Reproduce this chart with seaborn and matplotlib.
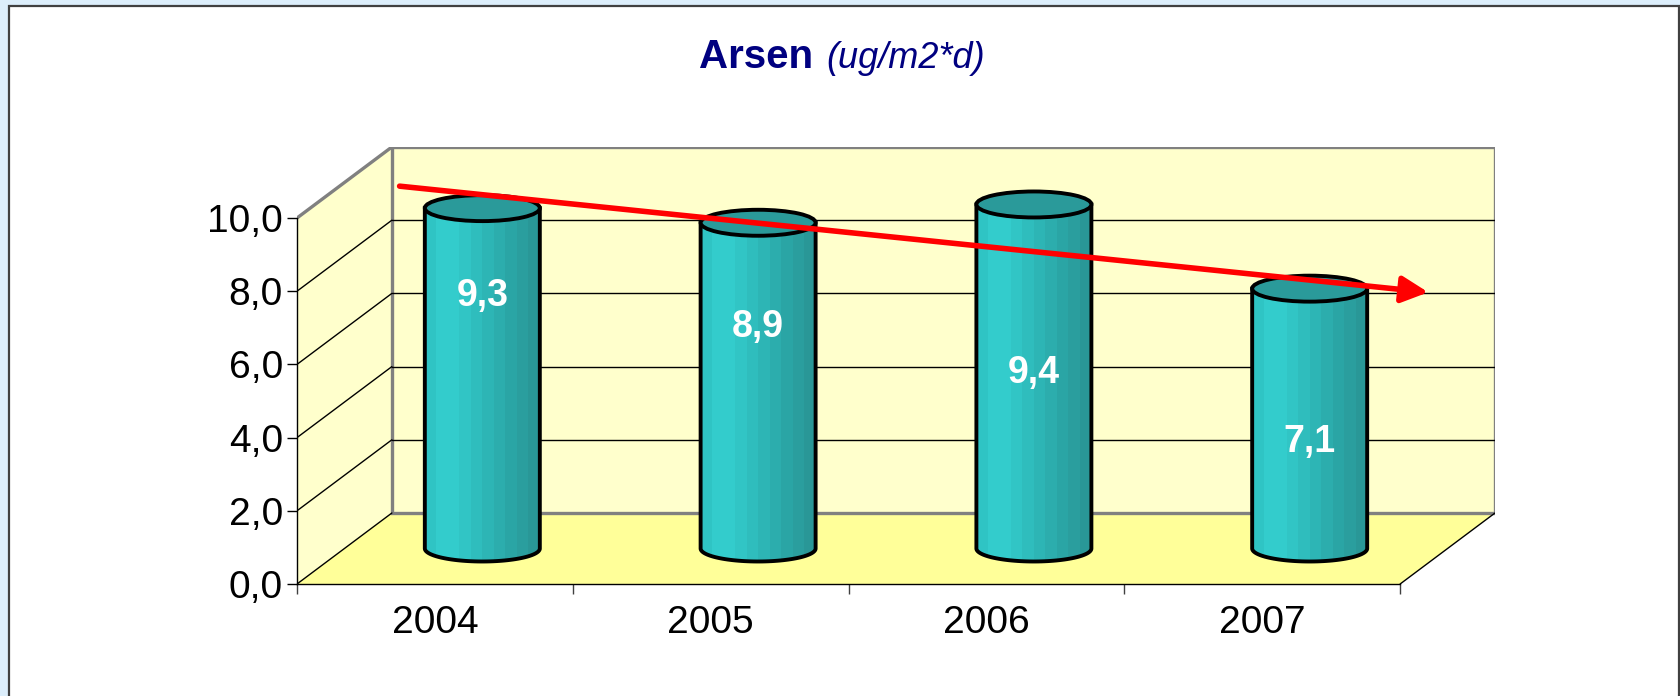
import numpy as np
import pandas as pd
import matplotlib
matplotlib.use("Agg")
import matplotlib.pyplot as plt
from matplotlib.patches import Polygon, Ellipse, PathPatch, Rectangle
from matplotlib.path import Path
import seaborn as sns

# ── data ────────────────────────────────────────────────────
years = ["2004", "2005", "2006", "2007"]
arsen = [9.3, 8.9, 9.4, 7.1]
value_labels = ["9,3", "8,9", "9,4", "7,1"]
label_levels = [6.9, 6.05, 4.8, 2.9]      # where Excel dropped the white labels
y_ticks = [0, 2, 4, 6, 8, 10]
y_tick_labels = ["0,0", "2,0", "4,0", "6,0", "8,0", "10,0"]
trend_pos = [-0.30, 3.43]                 # hand drawn red arrow (category units)
trend_val = [9.9, 7.0]

sns.set_theme(style="white")
plt.rcParams["font.family"] = ["Liberation Sans", "DejaVu Sans"]

# oblique "3D" offsets, in data units
DX, DY = 0.344, 1.94
CW, CH = 0.417, 0.71          # cylinder width, cap height
WALL, FLOOR, EDGE = "#FFFFCC", "#FFFF99", "#808080"
band_colors = ["#2FC4C4", "#33CCCC", "#33CCCC", "#31C5C5", "#2FBDBD",
               "#2DB5B5", "#2CADAD", "#2AA5A5", "#2A9E9E", "#299797"]

fig = plt.figure(figsize=(16.81, 6.96), dpi=100, facecolor="#DCEEFB")
fig.add_artist(Rectangle((9 / 1681, -0.02), 1670 / 1681, 1 - 6 / 696 + 0.02,
                         transform=fig.transFigure, facecolor="white",
                         edgecolor="#404040", lw=1.6, zorder=-1))
ax = fig.add_axes([297 / 1681, 112 / 696, 1198 / 1681, 437 / 696])
ax.set_facecolor("none")

x0, x1 = -0.5, len(years) - 0.5

# ── cylinders: striped bars clipped to a cylinder outline ───
df = pd.DataFrame([{"pos": i + DX / 2, "height": v + DY / 2, "band": f"b{k}"}
                   for i, v in enumerate(arsen) for k in range(len(band_colors))])
n_before = len(ax.patches)
sns.barplot(data=df, x="pos", y="height", hue="band", native_scale=True,
            width=CW, dodge=True, gap=0, palette=band_colors, saturation=1,
            errorbar=None, legend=False, linewidth=0, ax=ax, zorder=2)
bars = ax.patches[n_before:]

bodies = []
for i, v in enumerate(arsen):
    cx, yb, yt = i + DX / 2, DY / 2, v + DY / 2
    t = np.linspace(np.pi, 2 * np.pi, 60)
    verts = [(cx - CW / 2, yt)] + list(zip(cx + CW / 2 * np.cos(t), yb + CH / 2 * np.sin(t)))
    verts += [(cx + CW / 2, yt), (cx - CW / 2, yt)]
    codes = [Path.MOVETO] + [Path.LINETO] * (len(verts) - 2) + [Path.CLOSEPOLY]
    bodies.append(Path(verts, codes))
    ax.add_patch(PathPatch(bodies[-1], fc="none", ec="black", lw=2.8, zorder=3))
    ax.add_patch(Ellipse((cx, yt), CW, CH, fc="#2A9A9A", ec="black", lw=2.8, zorder=4))
    ax.text(cx, label_levels[i] + DY / 2, value_labels[i], color="white",
            fontsize=27, fontweight="bold", ha="center", va="center", zorder=5)

for p in bars:
    idx = int(round(p.get_x() + p.get_width() / 2 - DX / 2))
    p.set_clip_path(bodies[idx], ax.transData)

# ── walls and floor ─────────────────────────────────────────
ax.add_patch(Polygon([(x0, 0), (x1, 0), (x1 + DX, DY), (x0 + DX, DY)],
                     fc=FLOOR, ec="none", zorder=0.2))
ax.add_patch(Polygon([(x0, 0), (x0, 10), (x0 + DX, 10 + DY), (x0 + DX, DY)],
                     fc=WALL, ec="none", zorder=0.1))
ax.add_patch(Rectangle((x0 + DX, DY), x1 - x0, 10, fc=WALL, ec=EDGE, lw=2.4, zorder=0.5))
for v in y_ticks:
    if 0 < v < 10:
        ax.plot([x0 + DX, x1 + DX], [v + DY] * 2, color="black", lw=1.0, zorder=0.6)
    top = v == 10
    ax.plot([x0, x0 + DX], [v, v + DY], color=EDGE if top else "black",
            lw=2.4 if top else 1.0, zorder=0.7)
ax.plot([x1, x1 + DX], [0, DY], color="black", lw=1.0, zorder=0.7)

# red trend arrow
ax.annotate("", xy=(trend_pos[1] + DX / 2, trend_val[1] + DY / 2),
            xytext=(trend_pos[0] + DX / 2, trend_val[0] + DY / 2),
            arrowprops=dict(arrowstyle="-|>,head_length=0.8,head_width=0.4",
                            color="red", lw=4.0, mutation_scale=20,
                            shrinkA=0, shrinkB=0), zorder=6)

# ── axes ────────────────────────────────────────────────────
ax.set_xlim(x0, x1 + DX)
ax.set_ylim(0, 10 + DY)
ax.set_xlabel(""); ax.set_ylabel("")
for s in ["top", "right"]:
    ax.spines[s].set_visible(False)
ax.spines["left"].set_bounds(0, 10)
ax.spines["bottom"].set_bounds(x0, x1)
for s in ["left", "bottom"]:
    ax.spines[s].set_color("black"); ax.spines[s].set_linewidth(1)

ax.set_yticks(y_ticks, y_tick_labels)
ax.tick_params(axis="y", left=True, direction="out", length=7.2, width=1,
               color="black", pad=3, labelsize=28, labelcolor="black")
ax.set_xticks(range(len(years)), years)
ax.set_xticks(np.arange(x0, x1 + 0.01, 1), minor=True)
ax.tick_params(axis="x", which="major", length=0, pad=15, labelsize=28, labelcolor="black")
ax.tick_params(axis="x", which="minor", bottom=True, direction="out", length=7.2,
               width=1, color="#404040")
ax.grid(False)

# title: bold name + italic unit
fig.text(813 / 1681, 1 - 68 / 696, "Arsen", ha="right", va="baseline",
         fontsize=29, fontweight="bold", color="#000080")
fig.text(826 / 1681, 1 - 68 / 696, "(ug/m2*d)", ha="left", va="baseline",
         fontsize=26, fontstyle="italic", color="#000080")

fig.savefig("out.png", dpi=100, facecolor=fig.get_facecolor())
